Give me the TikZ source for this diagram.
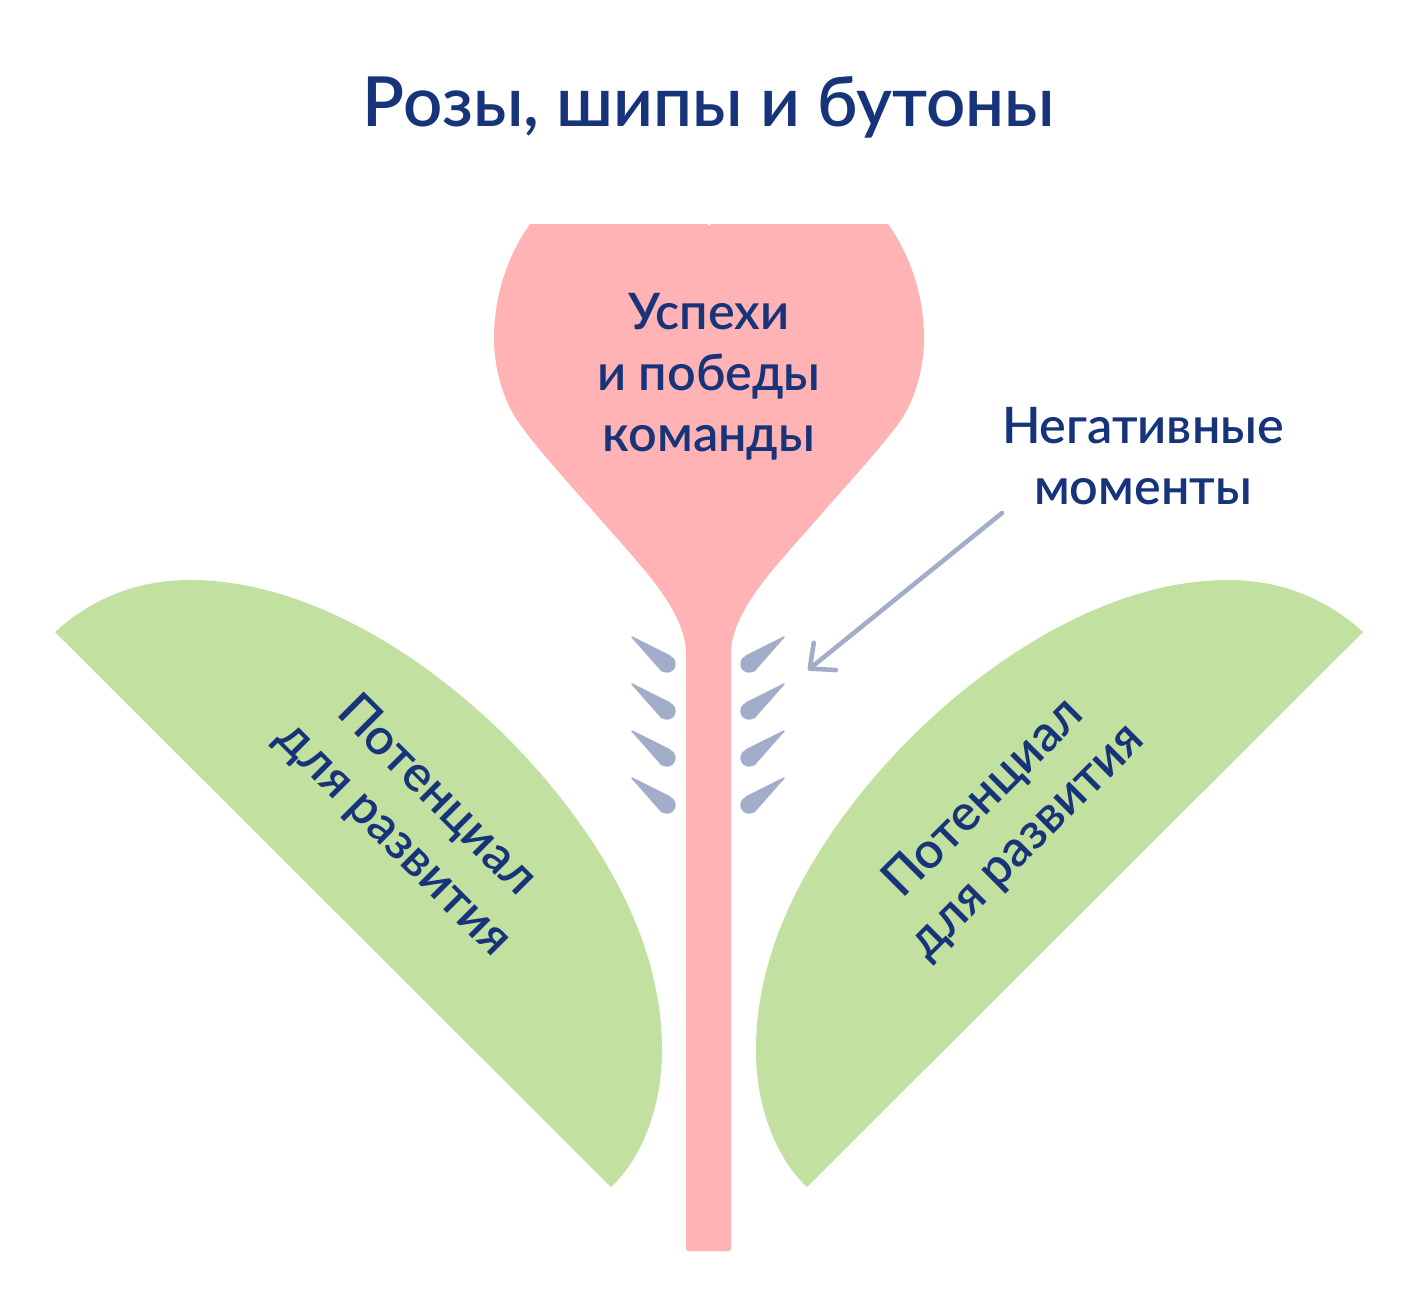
\documentclass[tikz,border=0pt]{standalone}
\usepackage{fontspec}
\setmainfont{Lato Semibold}
\usepackage{xcolor}
\usetikzlibrary{arrows.meta}
\definecolor{navy}{HTML}{17347A}
\definecolor{rosepink}{HTML}{FFB3B4}
\definecolor{leafgreen}{HTML}{C2E1A0}
\definecolor{thorngray}{HTML}{A2AEC9}
\tikzstyle{title}=[text=navy, font=\fontsize{19.6}{25}\selectfont]
\tikzstyle{caption}=[text=navy, align=center, font=\fontsize{14.3}{17.3}\selectfont]
\tikzstyle{thorn}=[fill=thorngray, draw=thorngray, line width=0.4pt, line join=round]

\begin{document}
\begin{tikzpicture}[x=0.01cm, y=-0.01cm]
      \useasboundingbox (0,0) rectangle (1418,1311);
      % rose and stem
      \fill[rosepink] (530,224) .. controls (508,255) and (494,295) .. (494,338)
        .. controls (494,372) and (505,402) .. (517,420)
        .. controls (535,447) and (575,490) .. (607,527)
        .. controls (645,570) and (683,610) .. (686,650)
        [rounded corners=0.7pt] -- (686,1251) -- (731,1251) [sharp corners] -- (731,650)
        .. controls (734,610) and (772,570) .. (810,527)
        .. controls (842,490) and (882,447) .. (901,420)
        .. controls (913,402) and (924,372) .. (924,338)
        .. controls (924,295) and (910,255) .. (888,224)
        -- (711,224) -- (709,226) -- (707,224) -- cycle;
      % leaves
      \fill[leafgreen] (55,632) .. controls (90,600) and (135,580) .. (190,580)
        .. controls (330,580) and (480,690) .. (570,810)
        .. controls (630,890) and (662,970) .. (662,1050)
        .. controls (662,1110) and (640,1160) .. (611,1187) -- cycle;
      \fill[leafgreen] (1363,632) .. controls (1328,600) and (1283,580) .. (1228,580)
        .. controls (1088,580) and (938,690) .. (848,810)
        .. controls (788,890) and (756,970) .. (756,1050)
        .. controls (756,1110) and (778,1160) .. (807,1187) -- cycle;
      % thorns
      \foreach \row in {0,47,94,141} {
        \filldraw[thorn] (632,{637+\row}) -- (670,{656+\row}) -- (662,{671+\row}) -- cycle;
        \filldraw[thorn] (667,{664+\row}) circle (8);
        \filldraw[thorn] (784,{637+\row}) -- (746,{656+\row}) -- (754,{671+\row}) -- cycle;
        \filldraw[thorn] (749,{664+\row}) circle (8);
      }
      \node (Title) [title] at (709,107) {Розы, шипы и бутоны};
      \node (Rose) [caption] at (709,377) {Успехи\\и победы\\команды};
      \node (Negative) [caption] at (1143,456) {Негативные\\моменты};
      \node (LeafLeft) [caption, rotate=-45] at (415,818) {Потенциал\\для развития};
      \node (LeafRight) [caption, rotate=45] at (1006,820) {Потенциал\\для развития};
      \coordinate (ArrowStart) at (1002,513);
      \coordinate (ArrowEnd) at (808,670);
      \draw[thorngray, line width=1.3pt, line cap=round, -{Straight Barb[length=5.5pt,width=10pt,round]}] (ArrowStart) -- (ArrowEnd);
    \end{tikzpicture}
\end{document}
